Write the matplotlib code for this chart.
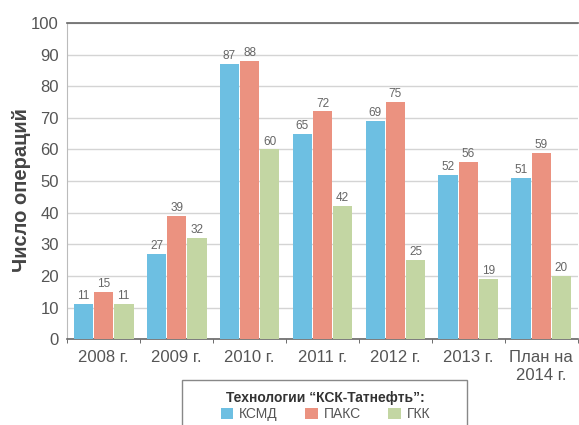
import matplotlib

matplotlib.use("Agg")
import matplotlib.pyplot as plt
from matplotlib.patches import Rectangle
import numpy as np

plt.rcParams["font.family"] = ["Liberation Sans Narrow", "Liberation Sans", "DejaVu Sans"]

years = ["2008 г.", "2009 г.", "2010 г.", "2011 г.", "2012 г.", "2013 г.", "План на\n2014 г."]
ksmd = [11, 27, 87, 65, 69, 52, 51]
paks = [15, 39, 88, 72, 75, 56, 59]
gkk = [11, 32, 60, 42, 25, 19, 20]
series_names = ["КСМД", "ПАКС", "ГКК"]
colors = ["#6dbfe2", "#eb9280", "#c3d6a3"]

fig = plt.figure(figsize=(5.79, 4.25), dpi=100)
ax = fig.add_axes([0.116, 0.202, 0.882, 0.744])

x = np.arange(len(years))
width = 0.27
step = 0.275
for i, (vals, name, col) in enumerate(zip([ksmd, paks, gkk], series_names, colors)):
    pos = x + (i - 1) * step
    bars = ax.bar(pos, vals, width, color=col, label=name, zorder=3)
    for b, v in zip(bars, vals):
        ax.text(b.get_x() + b.get_width() / 2, v + 0.6, str(v), ha="center", va="bottom",
                fontsize=8.5, color="#666666")

ax.set_xlim(-0.5, len(years) - 0.5)
ax.set_ylim(0, 100)
ax.set_yticks(range(0, 101, 10))
ax.set_xticks(x)
ax.set_xticklabels(years)
ax.set_xticks(np.arange(-0.5, len(years), 1), minor=True)
ax.tick_params(axis="x", which="major", length=0, pad=8, labelsize=12, labelcolor="#555555")
ax.tick_params(axis="x", which="minor", length=3, color="#555555", direction="out")
ax.tick_params(axis="y", length=0, pad=6, labelsize=12, labelcolor="#555555")

ax.yaxis.grid(True, color="#d4d4d4", linewidth=1, zorder=0)
ax.spines["right"].set_visible(False)
ax.spines["left"].set_color("#bbbbbb")
ax.spines["top"].set_color("#666666")
ax.spines["bottom"].set_color("#666666")
ax.spines["top"].set_linewidth(1.2)
ax.spines["bottom"].set_linewidth(1.2)

ax.set_ylabel("Число операций", fontsize=14.5, fontweight="bold", color="#444444")
ax.yaxis.set_label_coords(-0.07, 0.47)

# legend frame is wider than its content and runs off the bottom edge
fig.add_artist(Rectangle((182 / 579, -0.05), 285 / 579, 0.05 + 1 - 380 / 425,
                         transform=fig.transFigure, facecolor="white",
                         edgecolor="#888888", linewidth=1.0))
leg = fig.legend(loc="upper center", bbox_to_anchor=(0.562, 0.097), ncol=3,
                 title="Технологии “КСК-Татнефть”:", fontsize=10, frameon=False,
                 handlelength=0.9, handleheight=0.9, handletextpad=0.4,
                 columnspacing=2.0, borderpad=0.0, labelspacing=0.2)
leg.get_title().set_fontweight("bold")
leg.get_title().set_fontsize(10)
leg.get_title().set_color("#333333")
for t in leg.get_texts():
    t.set_color("#555555")

fig.savefig("out.png", dpi=100)
